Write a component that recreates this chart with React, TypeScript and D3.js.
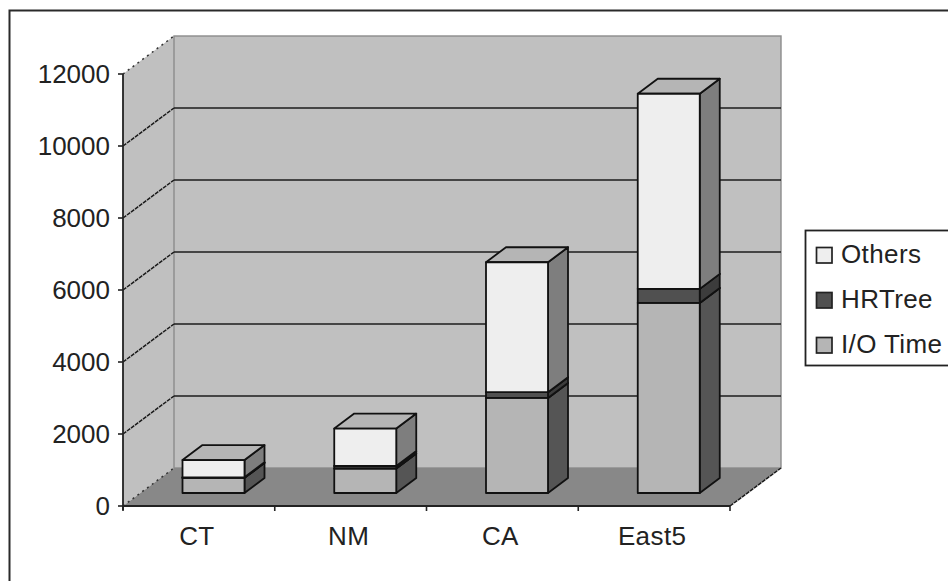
import React from "react";
import * as d3 from "d3";

const categories = ["CT", "NM", "CA", "East5"];
const seriesNames = ["I/O Time", "HRTree", "Others"];
const ioTime = [420, 680, 2640, 5280];
const hrTree = [15, 70, 160, 390];
const others = [480, 1040, 3610, 5420];
const yTicks = [0, 2000, 4000, 6000, 8000, 10000, 12000];
const legendOrder = ["Others", "HRTree", "I/O Time"];

const frontColors: Record<string, string> = { "I/O Time": "#b5b5b5", HRTree: "#505050", Others: "#eeeeee" };
const sideColors: Record<string, string> = { "I/O Time": "#555555", HRTree: "#3c3c3c", Others: "#7e7e7e" };
const topColors: Record<string, string> = { "I/O Time": "#8a8a8a", HRTree: "#2c2c2c", Others: "#b5b5b5" };

const fontFamily = '"Liberation Sans", Arial, sans-serif';

// Plot box on the front plane, and the oblique offset to the back wall
const plotLeft = 123;
const plotRight = 730;
const plotBottom = 506;
const plotTop = 74;
const wallDx = 51;
const wallDy = -38;

// Offset of the bars' front faces from the front plane, and the bars' own depth
const barLift = 13;
const barInset = 59.5;
const barWidth = 62;
const barDx = 20;
const barDy = -15;

const x = d3.scaleBand<string>().domain(categories).range([plotLeft, plotRight]);
const y = d3.scaleLinear().domain([0, 12000]).range([plotBottom, plotTop]);

const rows = categories.map((c, i) => ({
  category: c,
  "I/O Time": ioTime[i],
  HRTree: hrTree[i],
  Others: others[i],
}));
const stacked = d3.stack<any>().keys(seriesNames)(rows);

const poly = d3.line<[number, number]>().x((p) => p[0]).y((p) => p[1]);
const closed = (pts: [number, number][]) => poly(pts) + "Z";

const xTickValues = [...categories.map((c) => x(c) as number), plotRight];

export default function App() {
  const wallTop = y(12000);
  return (
    <svg
      width={948}
      height={581}
      viewBox="0 0 948 581"
      style={{ position: "absolute", left: 0, top: 0, background: "#ffffff" }}
      fontFamily={fontFamily}
    >
      {/* chart frame runs off the right and bottom of the canvas */}
      <rect x={9.5} y={10.5} width={960} height={600} fill="#ffffff" stroke="#2a2a2a" strokeWidth={2} />

      {/* side wall and back wall */}
      <path
        d={closed([
          [plotLeft, wallTop],
          [plotLeft + wallDx, wallTop + wallDy],
          [plotLeft + wallDx, plotBottom + wallDy],
          [plotLeft, plotBottom],
        ])}
        fill="#c0c0c0"
      />
      <rect
        x={plotLeft + wallDx}
        y={wallTop + wallDy}
        width={plotRight - plotLeft}
        height={plotBottom - wallTop}
        fill="#c0c0c0"
        stroke="#8c8c8c"
        strokeWidth={1.4}
      />

      {/* floor */}
      <path
        d={closed([
          [plotLeft, plotBottom],
          [plotRight, plotBottom],
          [plotRight + wallDx, plotBottom + wallDy],
          [plotLeft + wallDx, plotBottom + wallDy],
        ])}
        fill="#888888"
      />

      {/* gridlines across both walls */}
      {yTicks
        .filter((t) => t > 0 && t < 12000)
        .map((t) => (
          <g key={t}>
            <line
              x1={plotLeft + wallDx}
              x2={plotRight + wallDx}
              y1={y(t) + wallDy}
              y2={y(t) + wallDy}
              stroke="#1c1c1c"
              strokeWidth={1.7}
            />
            <line
              x1={plotLeft}
              x2={plotLeft + wallDx}
              y1={y(t)}
              y2={y(t) + wallDy}
              stroke="#1c1c1c"
              strokeWidth={1.5}
              strokeDasharray="4 1"
            />
          </g>
        ))}
      {[12000, 0].map((t) => (
        <line
          key={t}
          x1={plotLeft}
          x2={plotLeft + wallDx}
          y1={y(t)}
          y2={y(t) + wallDy}
          stroke="#333333"
          strokeWidth={1.5}
          strokeDasharray="2 4"
        />
      ))}
      <line
        x1={plotRight}
        x2={plotRight + wallDx}
        y1={plotBottom}
        y2={plotBottom + wallDy}
        stroke="#1c1c1c"
        strokeWidth={1.5}
        strokeDasharray="4 1"
      />

      {/* stacked bars, each segment with side, top and front faces */}
      {categories.map((c, ci) => {
        const x0 = (x(c) as number) + barInset;
        const x1 = x0 + barWidth;
        return (
          <g key={c}>
            {stacked.map((layer) => {
              const yLow = y(layer[ci][0]) - barLift;
              const yHigh = y(layer[ci][1]) - barLift;
              return (
                <g key={layer.key} stroke="#111111" strokeWidth={1.8} strokeLinejoin="round">
                  <path
                    d={closed([
                      [x1, yLow],
                      [x1 + barDx, yLow + barDy],
                      [x1 + barDx, yHigh + barDy],
                      [x1, yHigh],
                    ])}
                    fill={sideColors[layer.key]}
                  />
                  <path
                    d={closed([
                      [x0, yHigh],
                      [x0 + barDx, yHigh + barDy],
                      [x1 + barDx, yHigh + barDy],
                      [x1, yHigh],
                    ])}
                    fill={topColors[layer.key]}
                  />
                  <rect x={x0} y={yHigh} width={barWidth} height={yLow - yHigh} fill={frontColors[layer.key]} />
                </g>
              );
            })}
          </g>
        );
      })}

      {/* value axis */}
      <line x1={plotLeft} x2={plotLeft} y1={plotTop} y2={plotBottom + 4} stroke="#222222" strokeWidth={1.8} />
      {yTicks.map((t) => (
        <g key={t}>
          <line x1={plotLeft - 5} x2={plotLeft} y1={y(t)} y2={y(t)} stroke="#222222" strokeWidth={1.6} />
          <text x={plotLeft - 13} y={y(t) + 9} textAnchor="end" fontSize={26} fill="#222222">
            {d3.format("d")(t)}
          </text>
        </g>
      ))}

      {/* category axis */}
      <line x1={plotLeft} x2={plotRight} y1={plotBottom} y2={plotBottom} stroke="#222222" strokeWidth={1.8} />
      {xTickValues.map((tx) => (
        <line key={tx} x1={tx} x2={tx} y1={plotBottom} y2={plotBottom + 5} stroke="#222222" strokeWidth={1.6} />
      ))}
      {categories.map((c) => (
        <text
          key={c}
          x={(x(c) as number) + x.bandwidth() / 2 - 2}
          y={545}
          textAnchor="middle"
          fontSize={26}
          letterSpacing={0.4}
          fill="#222222"
        >
          {c}
        </text>
      ))}

      {/* legend */}
      <rect x={805.5} y={230.5} width={160} height={135} fill="#ffffff" stroke="#222222" strokeWidth={1.8} />
      {legendOrder.map((name, i) => (
        <g key={name}>
          <rect
            x={816.5}
            y={247.5 + i * 45}
            width={15.5}
            height={15.5}
            fill={frontColors[name]}
            stroke="#222222"
            strokeWidth={1.7}
          />
          <text x={841} y={263 + i * 45} fontSize={26} letterSpacing={0.4} fill="#222222">
            {name}
          </text>
        </g>
      ))}
    </svg>
  );
}
